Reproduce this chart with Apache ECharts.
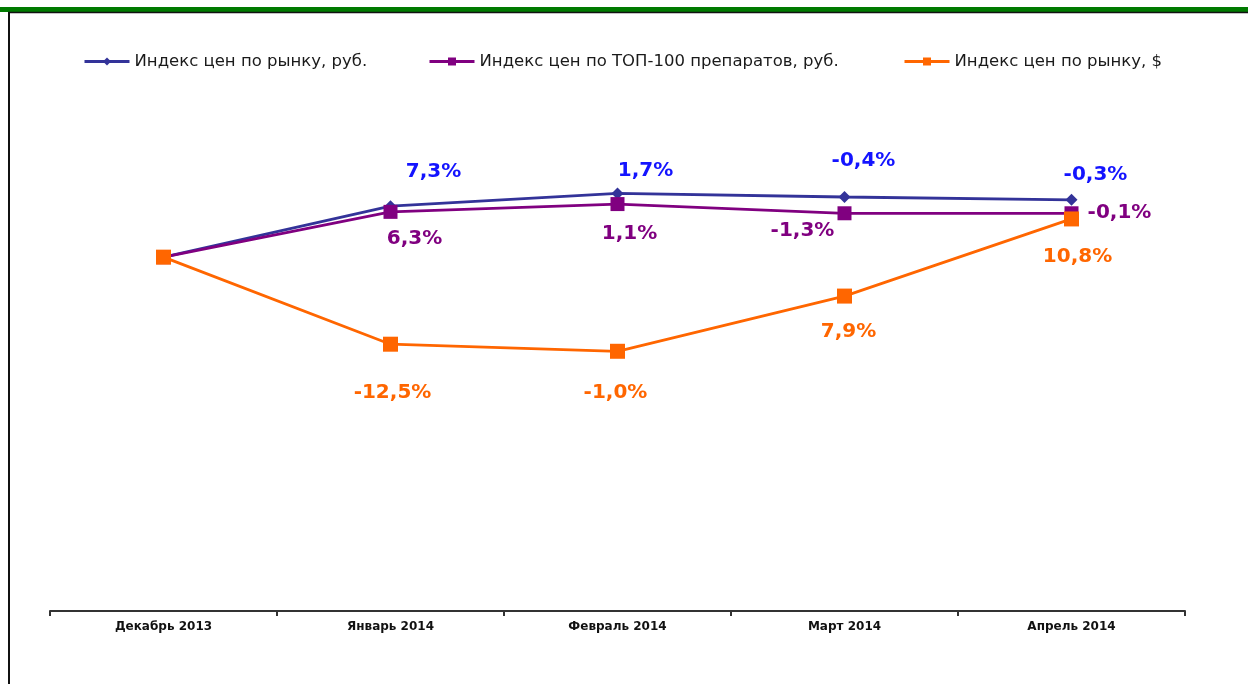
<!DOCTYPE html>
<html>
<head>
<meta charset="utf-8">
<script src="https://cdn.jsdelivr.net/npm/echarts@6/dist/echarts.min.js"></script>
<style>
  html, body { margin: 0; padding: 0; background: #fff; }
  #chart { width: 1248px; height: 684px; }
</style>
</head>
<body>
<div id="chart"></div>
<script>
// months
var months = ['Декабрь 2013', 'Январь 2014', 'Февраль 2014', 'Март 2014', 'Апрель 2014'];

// index level (Dec 2013 = 100)
var marketRub = [100, 107.2, 109.0, 108.5, 108.1];
var top100Rub = [100, 106.4, 107.5, 106.2, 106.2];
var marketUsd = [100, 87.7, 86.7, 94.5, 105.4];

// month-over-month change shown in the labels, %
var marketRubChg = [null, 7.3, 1.7, -0.4, -0.3];
var top100RubChg = [null, 6.3, 1.1, -1.3, -0.1];
var marketUsdChg = [null, -12.5, -1.0, 7.9, 10.8];

var names = ['Индекс цен по рынку, руб.', 'Индекс цен по ТОП-100 препаратов, руб.', 'Индекс цен по рынку, $'];

// where each label sits relative to its point (layout only)
var blueOff = [null, [43, -34], [28, -23], [19, -36], [24, -25]];
var purpleOff = [null, [24, 27], [12, 30], [-42, 18], [48, 0]];
var orangeOff = [null, [2, 49], [-2, 42], [4, 36], [6, 38]];

function fmt(v) {
  return v.toFixed(1).replace('.', ',') + '%';
}

function buildData(vals, chg, off) {
  return vals.map(function (v, i) {
    if (chg[i] == null) return { value: v, label: { show: false } };
    return { value: v, chg: chg[i], label: { show: true, offset: off[i] } };
  });
}

function mkSeries(name, vals, chg, off, color, labelColor, symbol, size) {
  return {
    name: name,
    type: 'line',
    data: buildData(vals, chg, off),
    symbol: symbol,
    symbolSize: size,
    lineStyle: { color: color, width: 2.8 },
    itemStyle: { color: color },
    label: {
      position: 'inside',
      color: labelColor,
      fontFamily: 'DejaVu Sans',
      fontWeight: 'bold',
      fontSize: 20,
      formatter: function (p) { return fmt(p.data.chg); }
    },
    animation: false
  };
}

function mkLegend(name, left) {
  return {
    data: [name],
    left: left,
    top: 53,
    padding: 0,
    itemWidth: 45,
    itemHeight: 10,
    lineStyle: { width: 3 },
    textStyle: { fontFamily: 'DejaVu Sans', fontSize: 16.5, color: '#1a1a1a' }
  };
}

var chart = echarts.init(document.getElementById('chart'));
chart.setOption({
  backgroundColor: '#fff',
  legend: [mkLegend(names[0], 83), mkLegend(names[1], 428), mkLegend(names[2], 903)],
  grid: { left: 50, right: 63, top: 151, bottom: 73 },
  xAxis: {
    type: 'category',
    data: months,
    axisLine: { lineStyle: { color: '#333', width: 2 } },
    axisTick: { show: true, length: 5, lineStyle: { color: '#333', width: 2 } },
    axisLabel: {
      margin: 10,
      fontFamily: 'DejaVu Sans',
      fontWeight: 'bold',
      fontSize: 12,
      color: '#111'
    }
  },
  yAxis: {
    type: 'value',
    min: 50,
    max: 115,
    show: false,
    splitLine: { show: false }
  },
  graphic: [
    { type: 'rect', shape: { x: 0, y: 7, width: 1248, height: 5 }, style: { fill: '#007a00' } },
    { type: 'line', shape: { x1: 8, y1: 12.5, x2: 1248, y2: 12.5 }, style: { stroke: '#111', lineWidth: 1.5 } },
    { type: 'line', shape: { x1: 9, y1: 12, x2: 9, y2: 684 }, style: { stroke: '#111', lineWidth: 2 } }
  ],
  series: [
    mkSeries(names[0], marketRub, marketRubChg, blueOff, '#333399', '#1414ff', 'diamond', 12),
    mkSeries(names[1], top100Rub, top100RubChg, purpleOff, '#800080', '#800080', 'rect', 14),
    mkSeries(names[2], marketUsd, marketUsdChg, orangeOff, '#ff6600', '#ff6600', 'rect', 15)
  ]
});
</script>
</body>
</html>
